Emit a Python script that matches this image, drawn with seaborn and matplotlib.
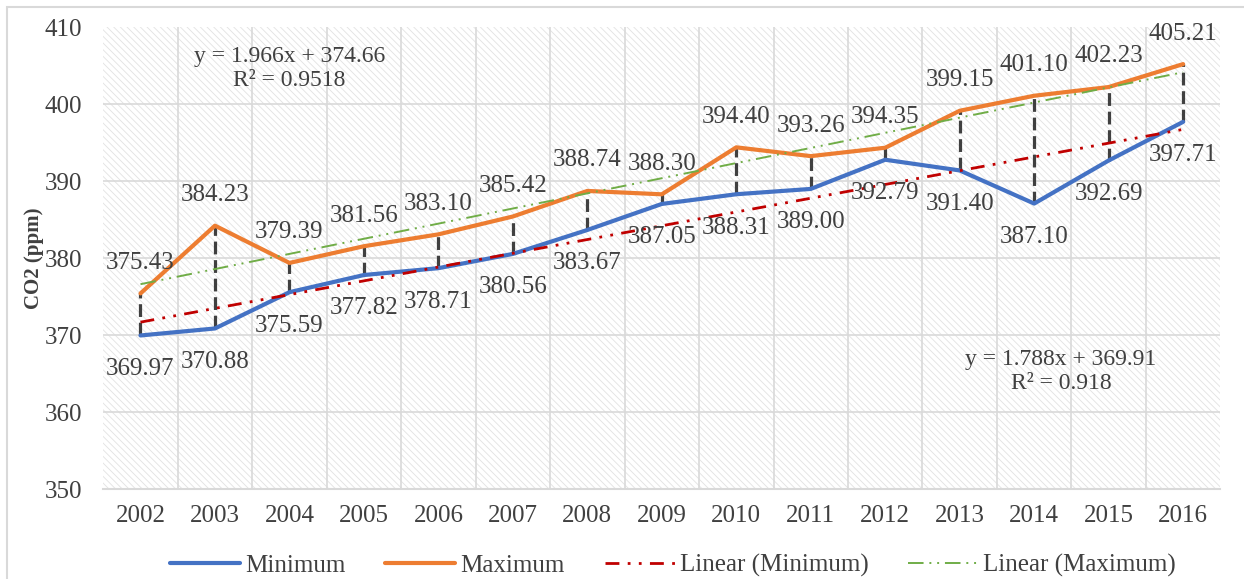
import numpy as np
import pandas as pd
import matplotlib.pyplot as plt
import seaborn as sns
from matplotlib.patches import Rectangle

# Data
years = [2002, 2003, 2004, 2005, 2006, 2007, 2008, 2009, 2010, 2011, 2012, 2013, 2014, 2015, 2016]
co2_min = [369.97, 370.88, 375.59, 377.82, 378.71, 380.56, 383.67, 387.05, 388.31, 389.00,
           392.79, 391.40, 387.10, 392.69, 397.71]
co2_max = [375.43, 384.23, 379.39, 381.56, 383.10, 385.42, 388.74, 388.30, 394.40, 393.26,
           394.35, 399.15, 401.10, 402.23, 405.21]

sns.set_theme(style='white')
plt.rcParams['font.family'] = ['Liberation Serif', 'DejaVu Serif']
plt.rcParams['hatch.linewidth'] = 0.6

idx = np.arange(len(years))
df = pd.DataFrame({'idx': idx, 'Minimum': co2_min, 'Maximum': co2_max})

# Linear trends (Excel style, x = 1..n)
xs = idx + 1
p_min = np.polyfit(xs, co2_min, 1)
p_max = np.polyfit(xs, co2_max, 1)
df['Linear (Minimum)'] = np.polyval(p_min, xs)
df['Linear (Maximum)'] = np.polyval(p_max, xs)

txt = '#404040'
fs = 18

fig = plt.figure(figsize=(12.44, 5.79), dpi=100)
ax = fig.add_axes([0.083, 0.155, 0.898, 0.798])

# hatched plot-area background
ax.patch.set_facecolor('white')
ax.patch.set_hatch('\\\\\\\\\\')
ax.patch.set_edgecolor('#e2e2e2')

# grid
for yv in range(360, 410, 10):
    ax.axhline(yv, color='#d9d9d9', lw=1.2, zorder=0.5)
for xv in np.arange(0.5, len(years) - 0.5, 1):
    ax.axvline(xv, color='#d9d9d9', lw=1.2, zorder=0.5)

# drop lines between min and max
ax.vlines(idx, co2_min, co2_max, colors='#404040', linestyles=(0, (4, 1.8)), lw=2.3, zorder=2)

sns.lineplot(data=df, x='idx', y='Minimum', ax=ax, color='#4472C4', lw=3, label='Minimum', zorder=3)
sns.lineplot(data=df, x='idx', y='Maximum', ax=ax, color='#ED7D31', lw=3, label='Maximum', zorder=3)
ax.plot(df['idx'], df['Linear (Minimum)'], color='#C00000', lw=2,
        linestyle=(0, (5, 3, 1, 3, 1, 3)), label='Linear (Minimum)', zorder=4)
ax.plot(df['idx'], df['Linear (Maximum)'], color='#70AD47', lw=1.4,
        linestyle=(0, (8, 3, 1, 3, 1, 3)), label='Linear (Maximum)', zorder=4)

# data labels
for i in idx:
    ax.annotate(f'{co2_max[i]:.2f}', (i, co2_max[i]), xytext=(0, 22), textcoords='offset points',
                ha='center', va='center', fontsize=fs, color=txt, zorder=5)
    ax.annotate(f'{co2_min[i]:.2f}', (i, co2_min[i]), xytext=(0, -24), textcoords='offset points',
                ha='center', va='center', fontsize=fs, color=txt, zorder=5)

# trendline equations
ax.text(2.0, 404.6, f'y = {p_max[0]:.3f}x + {p_max[1]:.2f}\nR² = 0.9518', ha='center', va='center',
        fontsize=17, color=txt, linespacing=1.2)
ax.text(12.36, 365.3, f'y = {p_min[0]:.3f}x + {p_min[1]:.2f}\nR² = 0.918', ha='center', va='center',
        fontsize=17, color=txt, linespacing=1.2)

ax.set_xlim(-0.5, len(years) - 0.5)
ax.set_ylim(350, 410)
ax.set_xticks(idx)
ax.set_xticklabels(years)
ax.set_yticks(range(350, 411, 10))
ax.xaxis.set_tick_params(labelsize=fs, labelcolor=txt, length=0, pad=11)
ax.yaxis.set_tick_params(labelsize=fs, labelcolor=txt, length=0, pad=15)
ax.set_xlabel('')
ax.set_ylabel('CO2 (ppm)', fontsize=15, fontweight='bold', color=txt, labelpad=1)

for s in ['top', 'right', 'left']:
    ax.spines[s].set_visible(False)
ax.spines['bottom'].set_color('#d9d9d9')
ax.spines['bottom'].set_linewidth(1.5)

ax.legend(loc='center', bbox_to_anchor=(0.51, -0.165), ncol=4, frameon=False,
          fontsize=fs, handlelength=2.8, handletextpad=0.2, columnspacing=1.6, labelcolor=txt)

# outer chart border
fig.patches.append(Rectangle((0.006, -0.01), 1.0, 0.998, transform=fig.transFigure,
                             fill=False, edgecolor='#d9d9d9', lw=1.5))

fig.savefig('out.png', dpi=100)
